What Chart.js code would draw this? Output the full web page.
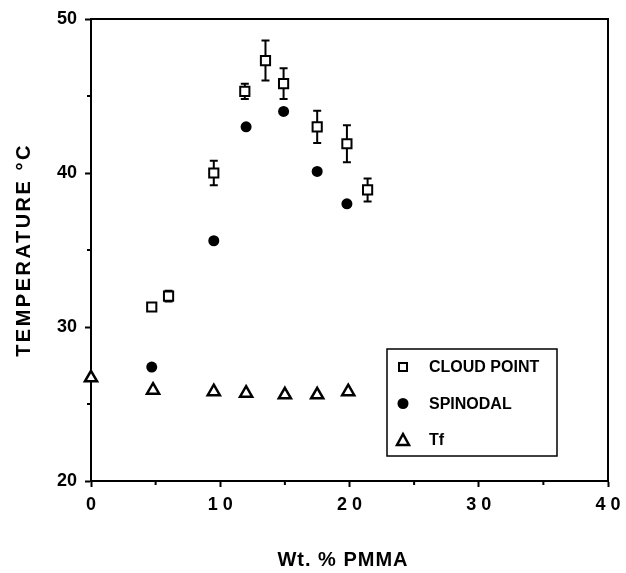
<!DOCTYPE html>
<html>
  <head>
    <meta charset="utf-8"/>
    <style>
      body { margin: 0; background: #fff; }
      #canvas-holder { width: 626px; height: 573px; }
    </style>
  </head>
  <body>
    <div id="canvas-holder">
        <canvas id="chart-area" width="626" height="573"></canvas>
    </div>

    <script src="https://cdn.jsdelivr.net/npm/chart.js@4/dist/chart.umd.min.js"></script>
    <script>
        // data
        var cloudX = [4.7, 6.0, 9.5, 11.9, 13.5, 14.9, 17.5, 19.8, 21.4];
        var cloudY = [31.3, 32.0, 40.0, 45.3, 47.3, 45.8, 43.0, 41.9, 38.9];
        var cloudErr = [0, 0.35, 0.8, 0.5, 1.3, 1.0, 1.05, 1.2, 0.75];

        var spinX = [4.7, 9.5, 12.0, 14.9, 17.5, 19.8];
        var spinY = [27.4, 35.6, 43.0, 44.0, 40.1, 38.0];

        var tfX = [0, 4.8, 9.5, 12.0, 15.0, 17.5, 19.9];
        var tfY = [26.7, 25.9, 25.8, 25.7, 25.6, 25.6, 25.8];

        var xMinorTicks = [5, 15, 25, 35];
        var yMinorTicks = [25, 35, 45];

        var seriesNames = ['CLOUD POINT', 'SPINODAL', 'Tf'];
        var xTitle = 'Wt. % PMMA';
        var yTitle = 'TEMPERATURE °C';

        var FONT = "'Liberation Sans', Arial, Helvetica, sans-serif";

        var toPoints = function(xs, ys) {
            var pts = [];
            for (var i = 0; i < xs.length; i++) {
                pts.push({x: xs[i], y: ys[i]});
            }
            return pts;
        };

        var drawSymbol = function(ctx, style, x, y) {
            ctx.save();
            ctx.lineWidth = 2;
            ctx.strokeStyle = '#000';
            ctx.beginPath();
            if (style == 'rect') {
                ctx.rect(x - 4, y - 4, 8, 8);
                ctx.fillStyle = '#fff';
                ctx.fill();
                ctx.stroke();
            } else if (style == 'circle') {
                ctx.arc(x, y, 5.5, 0, Math.PI * 2);
                ctx.fillStyle = '#000';
                ctx.fill();
            } else {
                ctx.lineWidth = 2.5;
                ctx.moveTo(x, y - 6);
                ctx.lineTo(x + 6, y + 5);
                ctx.lineTo(x - 6, y + 5);
                ctx.closePath();
                ctx.fillStyle = '#fff';
                ctx.fill();
                ctx.stroke();
            }
            ctx.restore();
        };

        // error bars go under the squares
        var errorBars = {
            id: 'errorBars',
            beforeDatasetsDraw: function(chart) {
                var ctx = chart.ctx;
                var xs = chart.scales.x, ys = chart.scales.y;
                ctx.save();
                ctx.strokeStyle = '#000';
                ctx.lineWidth = 2;
                for (var i = 0; i < cloudX.length; i++) {
                    if (!cloudErr[i]) continue;
                    var px = xs.getPixelForValue(cloudX[i]);
                    var top = ys.getPixelForValue(cloudY[i] + cloudErr[i]);
                    var bot = ys.getPixelForValue(cloudY[i] - cloudErr[i]);
                    ctx.beginPath();
                    ctx.moveTo(px, top);
                    ctx.lineTo(px, bot);
                    ctx.moveTo(px - 4, top);
                    ctx.lineTo(px + 4, top);
                    ctx.moveTo(px - 4, bot);
                    ctx.lineTo(px + 4, bot);
                    ctx.stroke();
                }
                ctx.restore();
            }
        };

        // frame, minor ticks, axis titles, legend box
        var decorations = {
            id: 'decorations',
            afterDraw: function(chart) {
                var ctx = chart.ctx;
                var a = chart.chartArea;
                var xs = chart.scales.x, ys = chart.scales.y;
                ctx.save();
                ctx.strokeStyle = '#000';
                ctx.lineWidth = 2;
                ctx.beginPath();
                ctx.moveTo(a.left, a.top);
                ctx.lineTo(a.right, a.top);
                ctx.lineTo(a.right, a.bottom);
                ctx.stroke();

                ctx.beginPath();
                xMinorTicks.forEach(function(v) {
                    var px = xs.getPixelForValue(v);
                    ctx.moveTo(px, a.bottom);
                    ctx.lineTo(px, a.bottom + 4);
                });
                yMinorTicks.forEach(function(v) {
                    var py = ys.getPixelForValue(v);
                    ctx.moveTo(a.left, py);
                    ctx.lineTo(a.left - 4, py);
                });
                ctx.stroke();

                ctx.fillStyle = '#000';
                ctx.textAlign = 'center';
                ctx.textBaseline = 'middle';
                ctx.font = 'bold 20px ' + FONT;
                ctx.letterSpacing = '1px';
                ctx.fillText(xTitle, 343, 560);

                ctx.save();
                ctx.translate(24, 250);
                ctx.rotate(-Math.PI / 2);
                ctx.letterSpacing = '2.5px';
                ctx.fillText(yTitle, 0, 0);
                ctx.restore();

                // legend
                ctx.letterSpacing = '0px';
                ctx.lineWidth = 1.5;
                ctx.strokeRect(387, 349, 170, 107);
                var styles = ['rect', 'circle', 'triangle'];
                ctx.font = 'bold 16px ' + FONT;
                ctx.textAlign = 'left';
                for (var i = 0; i < seriesNames.length; i++) {
                    var ly = 367 + i * 36.5;
                    drawSymbol(ctx, styles[i], 403, ly);
                    ctx.fillText(seriesNames[i], 429, ly + 1);
                }
                ctx.restore();
            }
        };

        var tickFont = { family: FONT, size: 18, weight: 'bold' };

        var ctx = document.getElementById('chart-area').getContext('2d');
        var chart = new Chart(ctx, {
            type: 'scatter',
            data: {
                datasets: [{
                    label: seriesNames[0],
                    data: toPoints(cloudX, cloudY),
                    pointStyle: 'rect',
                    pointRadius: 6.5,
                    pointBorderWidth: 2,
                    borderColor: '#000',
                    backgroundColor: '#fff',
                    clip: false
                }, {
                    label: seriesNames[1],
                    data: toPoints(spinX, spinY),
                    pointStyle: 'circle',
                    pointRadius: 5.5,
                    pointBorderWidth: 0,
                    borderColor: '#000',
                    backgroundColor: '#000',
                    clip: false
                }, {
                    label: seriesNames[2],
                    data: toPoints(tfX, tfY),
                    pointStyle: 'triangle',
                    pointRadius: 7,
                    pointBorderWidth: 2.5,
                    borderColor: '#000',
                    backgroundColor: '#fff',
                    clip: false
                }]
            },
            options: {
                responsive: false,
                animation: false,
                layout: { padding: { top: 19, right: 18, left: 0, bottom: 0 } },
                plugins: {
                    legend: { display: false },
                    tooltip: { enabled: false }
                },
                scales: {
                    x: {
                        type: 'linear',
                        min: 0,
                        max: 40,
                        afterFit: function(s) { s.height = 92; s.paddingRight = 0; s.paddingLeft = 0; },
                        ticks: {
                            stepSize: 10,
                            color: '#000',
                            font: tickFont,
                            padding: 7,
                            maxRotation: 0,
                            callback: function(v) { return String(v).split('').join(' '); }
                        },
                        grid: { drawOnChartArea: false, tickLength: 6, tickWidth: 2, tickColor: '#000' },
                        border: { color: '#000', width: 2 }
                    },
                    y: {
                        type: 'linear',
                        min: 20,
                        max: 50,
                        afterFit: function(s) { s.width = 91; s.paddingTop = 0; s.paddingBottom = 0; },
                        ticks: {
                            stepSize: 10,
                            color: '#000',
                            font: tickFont,
                            padding: 8
                        },
                        grid: { drawOnChartArea: false, tickLength: 6, tickWidth: 2, tickColor: '#000' },
                        border: { color: '#000', width: 2 }
                    }
                }
            },
            plugins: [errorBars, decorations]
        });
    </script>
    </body>
</html>
